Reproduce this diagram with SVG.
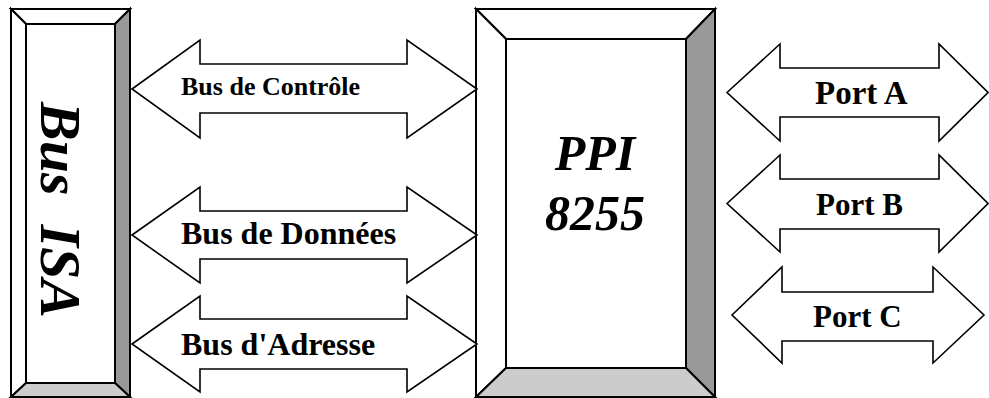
<svg xmlns="http://www.w3.org/2000/svg" width="989" height="398" viewBox="0 0 989 398">
  <style>
    .edge { stroke: #000; stroke-width: 2; stroke-linejoin: miter; }
    .hi { fill: #fff; }
    .side { fill: #999; }
    .base { fill: #ccc; }
    .face { fill: #fff; stroke: #000; stroke-width: 2; }
    .arrow { fill: #fff; stroke: #000; stroke-width: 1.6; stroke-linejoin: miter; }
    .lbl { font-family: "Liberation Serif", "Times New Roman", serif; font-weight: bold; fill: #000; }
    .big { font-family: "Liberation Serif", "Times New Roman", serif; font-weight: bold; font-style: italic; fill: #000; }
  </style>
  <rect width="989" height="398" fill="#fff"/>

  <!-- ISA bus: bevelled block -->
  <g id="bus-isa">
    <polygon class="edge hi" points="11,9 130,9 115,24 26,24"/>
    <polygon class="edge hi" points="11,9 26,24 26,383 11,397"/>
    <polygon class="edge side" points="130,9 130,397 115,383 115,24"/>
    <polygon class="edge base" points="11,397 26,383 115,383 130,397"/>
    <rect class="face" x="26" y="24" width="89" height="359"/>
    <text class="big" font-size="58" text-anchor="middle" transform="translate(41,210) rotate(90)" xml:space="preserve">Bus  ISA</text>
  </g>

  <!-- 8255 programmable peripheral interface: bevelled block -->
  <g id="ppi-8255">
    <polygon class="edge hi" points="476,9 715,9 686,39 506,39"/>
    <polygon class="edge hi" points="476,9 506,39 506,368 476,397"/>
    <polygon class="edge side" points="715,9 715,397 686,368 686,39"/>
    <polygon class="edge base" points="476,397 506,368 686,368 715,397"/>
    <rect class="face" x="506" y="39" width="180" height="329"/>
    <text class="big" font-size="50" text-anchor="middle" x="595" y="170">PPI</text>
    <text class="big" font-size="50" text-anchor="middle" x="595" y="230">8255</text>
  </g>

  <!-- double-headed bus / port arrows -->
  <g id="connectors">
    <g id="bus-controle">
      <polygon class="arrow" points="132,89 200,40 200,64 407,64 407,40 477,89 407,138 407,113 200,113 200,138"/>
      <text class="lbl" font-size="26" x="181" y="95">Bus de Contrôle</text>
    </g>
    <g id="bus-donnees">
      <polygon class="arrow" points="132,235 200,187 200,211 407,211 407,187 477,235 407,283 407,259 200,259 200,283"/>
      <text class="lbl" font-size="32" x="181" y="244">Bus de Données</text>
    </g>
    <g id="bus-adresse">
      <polygon class="arrow" points="132,344 200,296 200,319 407,319 407,296 477,344 407,392 407,369 200,369 200,392"/>
      <text class="lbl" font-size="32" x="181" y="355">Bus d'Adresse</text>
    </g>
    <g id="port-a">
      <polygon class="arrow" points="727,92.5 780,44 780,68 939,68 939,44 988,92.5 939,141 939,117 780,117 780,141"/>
      <text class="lbl" font-size="33" x="815" y="104">Port A</text>
    </g>
    <g id="port-b">
      <polygon class="arrow" points="727,203.5 780,155 780,179 939,179 939,155 988,203.5 939,252 939,229 780,229 780,252"/>
      <text class="lbl" font-size="31" x="816" y="215">Port B</text>
    </g>
    <g id="port-c">
      <polygon class="arrow" points="732,315 782,267 782,292 933,292 933,267 984,315 933,363 933,341 782,341 782,363"/>
      <text class="lbl" font-size="31" x="813" y="327">Port C</text>
    </g>
  </g>
</svg>
